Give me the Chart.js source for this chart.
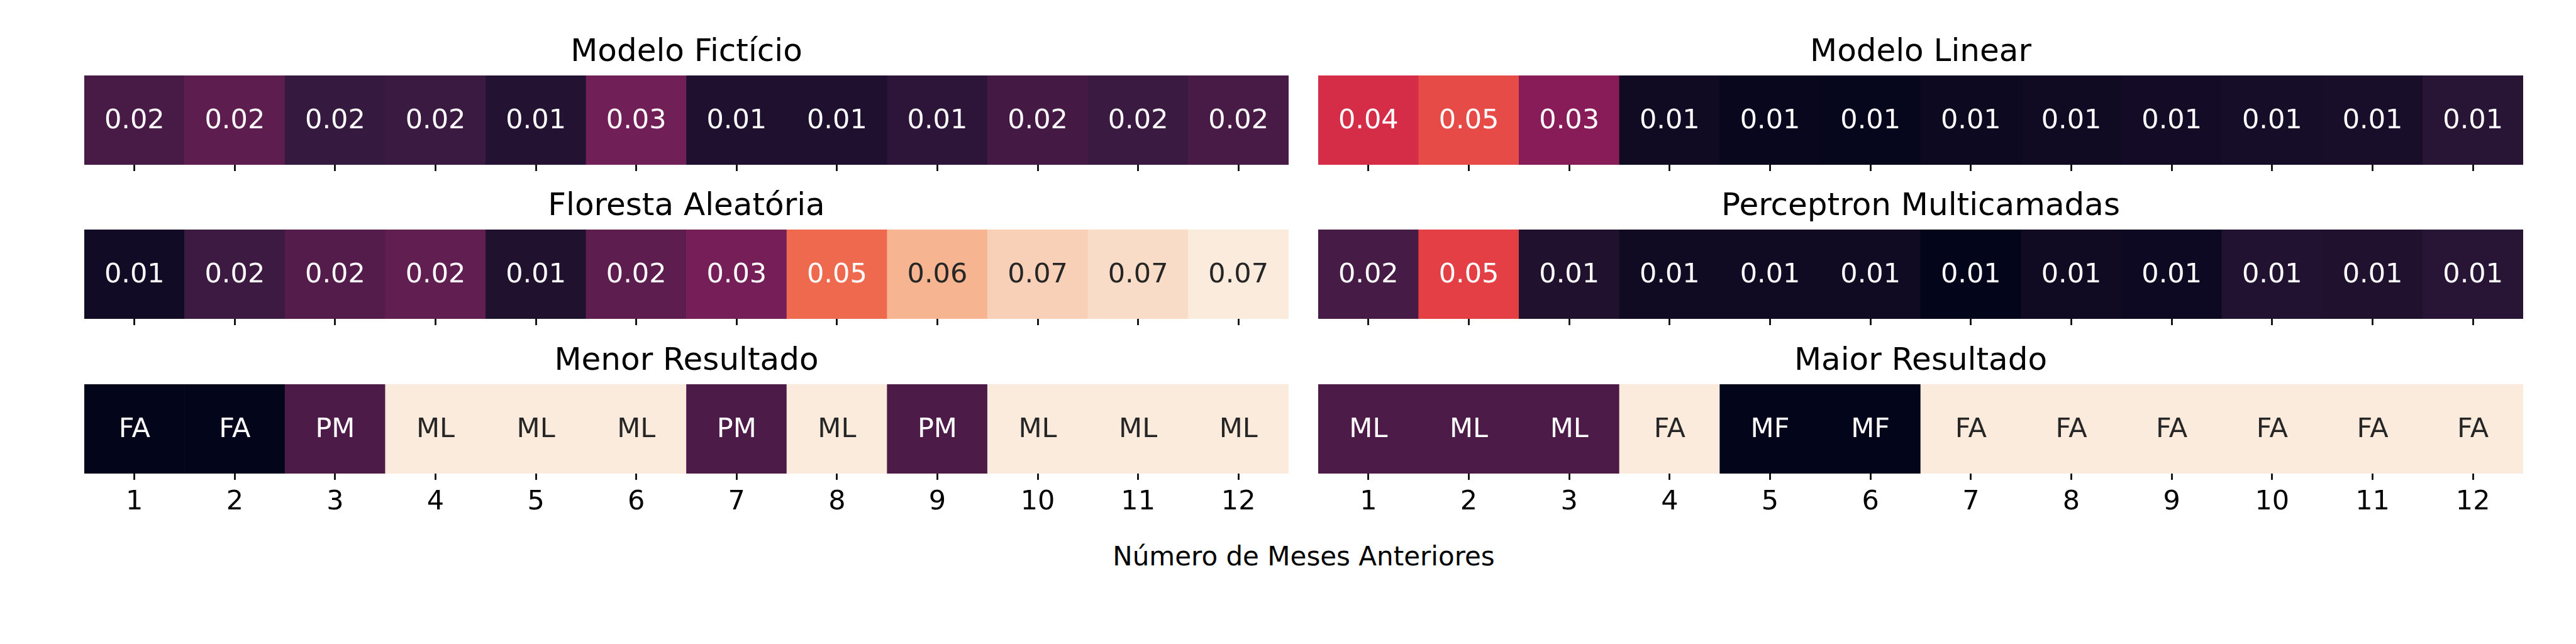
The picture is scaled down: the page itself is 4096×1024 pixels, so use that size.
<!DOCTYPE html>
<html>
<head>
<meta charset="utf-8">
<script src="https://cdn.jsdelivr.net/npm/chart.js@4.4.1/dist/chart.umd.min.js"></script>
<style>
  html, body { margin: 0; padding: 0; background: #fff; }
  body { width: 4096px; height: 1024px; position: relative; overflow: hidden; font-family: "DejaVu Sans"; }
  .painel { position: absolute; }
  #xlabel { position: absolute; left: 1073px; width: 2000px; top: 860px; line-height: 50px;
            text-align: center; font-size: 42px; color: #000; }
</style>
</head>
<body>
<div class="painel" style="left:134px;top:54px"><canvas id="c1" width="1915" height="220"></canvas></div>
<div class="painel" style="left:2096px;top:54px"><canvas id="c2" width="1916" height="220"></canvas></div>
<div class="painel" style="left:134px;top:299px"><canvas id="c3" width="1915" height="220"></canvas></div>
<div class="painel" style="left:2096px;top:299px"><canvas id="c4" width="1916" height="220"></canvas></div>
<div class="painel" style="left:134px;top:545px"><canvas id="c5" width="1915" height="278"></canvas></div>
<div class="painel" style="left:2096px;top:545px"><canvas id="c6" width="1916" height="278"></canvas></div>
<div id="xlabel">Número de Meses Anteriores</div>
<script>
// meses anteriores (eixo x)
var meses = ["1", "2", "3", "4", "5", "6", "7", "8", "9", "10", "11", "12"];

// erros por modelo (valores estimados a partir das cores)
var modeloFicticio = [0.0186, 0.0223, 0.0158, 0.0166, 0.0124, 0.0252, 0.0115, 0.0115, 0.0141, 0.0181, 0.0166, 0.0186];
var modeloLinear = [0.0417, 0.0472, 0.0289, 0.0088, 0.0073, 0.0069, 0.0081, 0.0088, 0.0096, 0.0100, 0.0106, 0.0133];
var florestaAleatoria = [0.0092, 0.0169, 0.0205, 0.0228, 0.0119, 0.0223, 0.0261, 0.0514, 0.0628, 0.0674, 0.0694, 0.0720];
var perceptronMulticamadas = [0.0185, 0.0455, 0.0119, 0.0088, 0.0088, 0.0088, 0.0064, 0.0088, 0.0084, 0.0123, 0.0119, 0.0133];

// melhor / pior modelo por mes
var menorResultado = ["FA", "FA", "PM", "ML", "ML", "ML", "PM", "ML", "PM", "ML", "ML", "ML"];
var maiorResultado = ["ML", "ML", "ML", "FA", "MF", "MF", "FA", "FA", "FA", "FA", "FA", "FA"];
var niveisMenor = { FA: 0, PM: 0.2, ML: 1 };
var niveisMaior = { MF: 0, ML: 0.2, FA: 1 };

// paleta "rocket"
var rocketPos = [0, 1 / 7, 2 / 7, 3 / 7, 4 / 7, 5 / 7, 6 / 7, 1];
var rocketRgb = [[3, 5, 26], [53, 25, 62], [112, 31, 87], [173, 23, 89], [225, 51, 66], [243, 118, 81], [246, 180, 143], [250, 235, 221]];

function rocket(t) {
  t = Math.max(0, Math.min(1, t));
  for (var i = 1; i < rocketPos.length; i++) {
    if (t <= rocketPos[i]) {
      var f = (t - rocketPos[i - 1]) / (rocketPos[i] - rocketPos[i - 1]);
      var a = rocketRgb[i - 1], b = rocketRgb[i];
      return [0, 1, 2].map(function (k) { return Math.round(a[k] + (b[k] - a[k]) * f); });
    }
  }
  return rocketRgb[rocketRgb.length - 1];
}

function corTexto(rgb) {
  var lin = rgb.map(function (c) {
    c = c / 255;
    return c <= 0.03928 ? c / 12.92 : Math.pow((c + 0.055) / 1.055, 2.4);
  });
  var lum = 0.2126 * lin[0] + 0.7152 * lin[1] + 0.0722 * lin[2];
  return lum > 0.408 ? "#262626" : "#ffffff";
}

function rgbStr(rgb) {
  return "rgb(" + rgb[0] + "," + rgb[1] + "," + rgb[2] + ")";
}

var todos = modeloFicticio.concat(modeloLinear, florestaAleatoria, perceptronMulticamadas);
var vmin = Math.min.apply(null, todos);
var vmax = Math.max.apply(null, todos);

var anotacoes = {
  id: "anotacoes",
  afterDatasetsDraw: function (chart) {
    var ctx = chart.ctx;
    var meta = chart.getDatasetMeta(0);
    var ds = chart.data.datasets[0];
    ctx.save();
    ctx.font = '43px "DejaVu Sans"';
    ctx.textAlign = "center";
    ctx.textBaseline = "middle";
    meta.data.forEach(function (bar, i) {
      var p = bar.getProps(["x", "y", "base"], true);
      ctx.fillStyle = ds.corTextos[i];
      ctx.fillText(ds.textos[i], p.x, (p.y + p.base) / 2 + 2);
    });
    ctx.restore();
  }
};

function desenharPainel(id, titulo, textos, posicoes, comRotulos) {
  var cores = posicoes.map(function (t) { return rocket(t); });
  new Chart(document.getElementById(id), {
    type: "bar",
    data: {
      labels: meses,
      datasets: [{
        data: meses.map(function () { return [0, 1]; }),
        backgroundColor: cores.map(rgbStr),
        borderWidth: 0,
        barPercentage: 1,
        categoryPercentage: 1,
        textos: textos,
        corTextos: cores.map(corTexto)
      }]
    },
    options: {
      responsive: false,
      animation: false,
      events: [],
      layout: { padding: 0 },
      plugins: {
        legend: { display: false },
        tooltip: { enabled: false },
        title: {
          display: true,
          text: titulo,
          color: "#000",
          font: { family: "DejaVu Sans", size: 50, weight: "normal", lineHeight: 1.2 },
          padding: { top: 0, bottom: 6 }
        }
      },
      scales: {
        x: {
          type: "category",
          offset: true,
          border: { display: false },
          grid: { display: true, offset: false, drawOnChartArea: false, drawTicks: true,
                  tickLength: 10, tickWidth: 2.7, tickColor: "#000" },
          ticks: { display: comRotulos, color: "#000", padding: 10, maxRotation: 0,
                   font: { family: "DejaVu Sans", size: 43 } },
          afterFit: function (s) { s.height = comRotulos ? 70 : 12; }
        },
        y: { display: false, min: 0, max: 1 }
      }
    },
    plugins: [anotacoes]
  });
}

function normalizar(valores) {
  return valores.map(function (v) { return (v - vmin) / (vmax - vmin); });
}
function fmt(valores) {
  return valores.map(function (v) { return v.toFixed(2); });
}

desenharPainel("c1", "Modelo Fictício", fmt(modeloFicticio), normalizar(modeloFicticio), false);
desenharPainel("c2", "Modelo Linear", fmt(modeloLinear), normalizar(modeloLinear), false);
desenharPainel("c3", "Floresta Aleatória", fmt(florestaAleatoria), normalizar(florestaAleatoria), false);
desenharPainel("c4", "Perceptron Multicamadas", fmt(perceptronMulticamadas), normalizar(perceptronMulticamadas), false);
desenharPainel("c5", "Menor Resultado", menorResultado,
  menorResultado.map(function (m) { return niveisMenor[m]; }), true);
desenharPainel("c6", "Maior Resultado", maiorResultado,
  maiorResultado.map(function (m) { return niveisMaior[m]; }), true);
</script>
</body>
</html>
